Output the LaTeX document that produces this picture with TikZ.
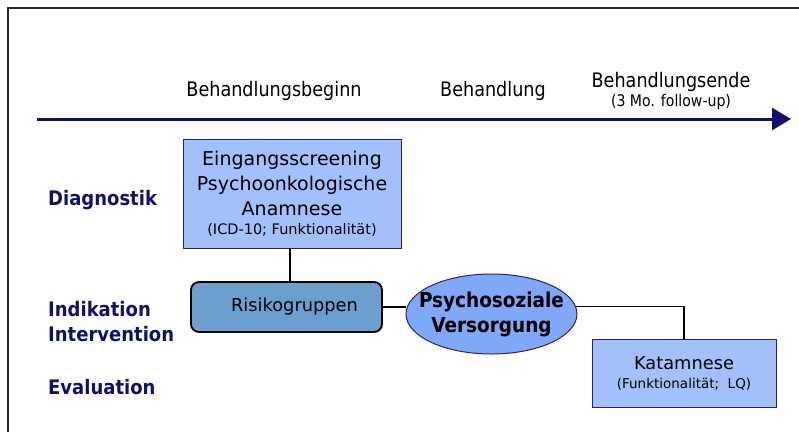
\documentclass[tikz,border=0pt]{standalone}
\usepackage{fontspec}
\setmainfont{DejaVu Sans}
\newfontfamily\boxfont{DejaVu Sans}
\newfontfamily\topfont[FakeStretch=0.88]{DejaVu Sans}
\newfontfamily\labfont[FakeStretch=0.9]{DejaVu Sans}
\usetikzlibrary{shapes.geometric,arrows.meta}
\definecolor{navy}{RGB}{16,16,110}
\definecolor{boxblue}{RGB}{162,192,250}
\definecolor{riskblue}{RGB}{108,158,206}
\definecolor{ellblue}{RGB}{128,168,248}
\definecolor{boxedge}{RGB}{50,30,100}
\tikzset{
  toplabel/.style={anchor=base, inner sep=0pt, font=\topfont\fontsize{20}{23}\selectfont, text=black},
  sidelabel/.style={anchor=base west, inner sep=0pt, font=\labfont\bfseries\fontsize{20}{24}\selectfont, text=navy},
  infobox/.style={draw=boxedge, line width=1pt, fill=boxblue, rectangle, inner sep=0pt, align=center, font=\boxfont\fontsize{19}{25}\selectfont},
  conn/.style={draw=black, line width=1.5pt}
}
\begin{document}
\begin{tikzpicture}[x=1pt,y=-1pt]
\useasboundingbox (0,0) rectangle (799,432);
% frame
\coordinate (fbl) at (8,432);
\coordinate (ftl) at (8,8);
\coordinate (ftr) at (799,8);
\draw[line width=2.5pt, black!85] (fbl) -- (ftl) -- (ftr);
% time axis
\coordinate (tstart) at (37,119);
\coordinate (tend) at (791,119);
\draw[navy, line width=3pt, -{Triangle[length=19pt,width=22pt]}] (tstart) -- (tend);
\node[toplabel] (beginn) at (274,96) {Behandlungsbeginn};
\node[toplabel] (behandl) at (493,96) {Behandlung};
\node[toplabel] (ende) at (671,87) {Behandlungsende};
\node[toplabel, font=\topfont\fontsize{16}{19}\selectfont] (follow) at (671,106) {(3 Mo. follow-up)};
% side labels
\node[sidelabel] (diag) at (48,205) {Diagnostik};
\node[sidelabel] (indik) at (48,316) {Indikation};
\node[sidelabel] (interv) at (48,341) {Intervention};
\node[sidelabel] (eval) at (48,394) {Evaluation};
% boxes
\node[infobox, minimum width=218pt, minimum height=109pt] (screen) at (292,193.5)
  {Eingangsscreening\\Psychoonkologische\\Anamnese\\[-6pt]{\fontsize{14.5}{17}\selectfont (ICD-10; Funktionalität)}};
\node[draw=black, line width=1.8pt, fill=riskblue, rounded corners=8pt, minimum width=191pt, minimum height=50pt, inner sep=0pt, font=\boxfont\fontsize{17.8}{22}\selectfont] (risk) at (286.5,307)
  {\hspace*{16pt}Risikogruppen};
\node[ellipse, draw=boxedge, line width=1pt, fill=ellblue, minimum width=171pt, minimum height=80pt, inner xsep=-14pt, inner ysep=0pt, align=center, font=\labfont\bfseries\fontsize{20.5}{25}\selectfont] (psy) at (491.5,314)
  {Psychosoziale\\Versorgung};
\node[infobox, minimum width=184pt, minimum height=68pt, font=\boxfont\fontsize{17.8}{20}\selectfont] (kat) at (684,373.5)
  {Katamnese\\[-1pt]{\fontsize{13.5}{16}\selectfont (Funktionalität;\ \ LQ)}};
% connectors
\draw[conn] (screen.south -| 290,0) -- (risk.north -| 290,0);
\draw[conn] (risk.east) -- (risk.east -| psy.west);
\draw[conn] (psy.5) -| (kat.north);
\end{tikzpicture}
\end{document}
